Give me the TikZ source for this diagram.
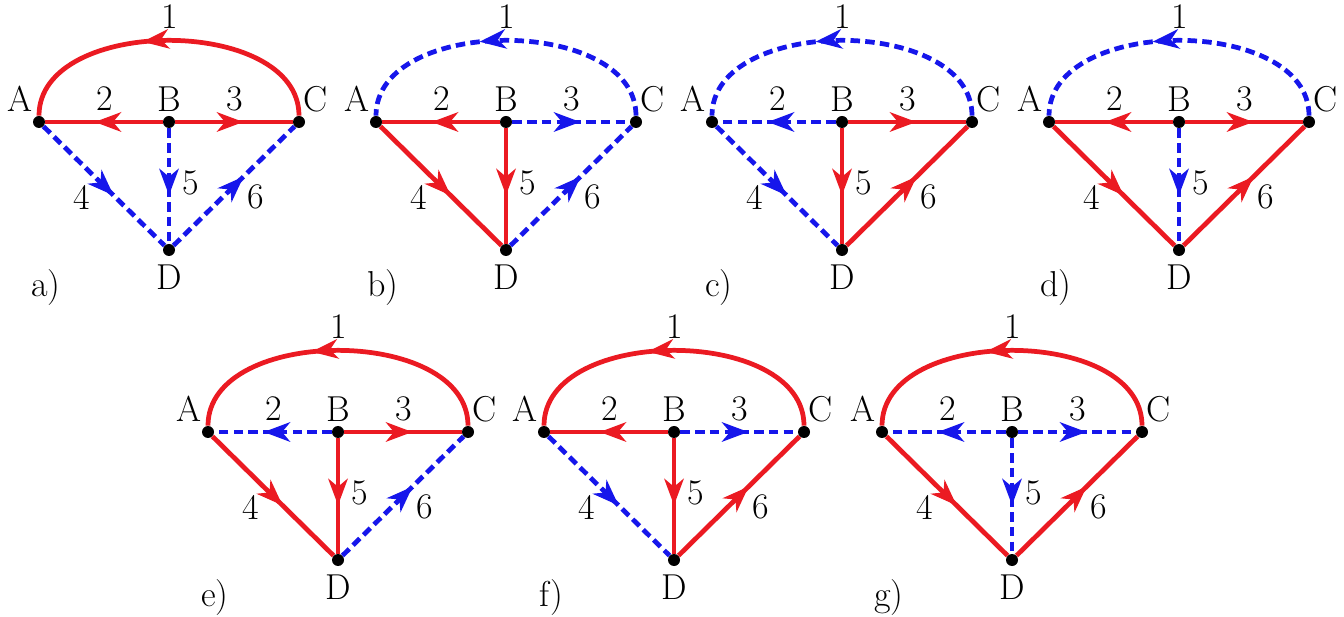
\documentclass[tikz,border=0pt]{standalone}
\usetikzlibrary{arrows.meta,decorations.markings,positioning}
\definecolor{loopred}{RGB}{235,26,34}
\definecolor{chordblue}{RGB}{22,22,235}

\begin{document}
\begin{tikzpicture}[x=0.02cm,y=-0.02cm,
  vx/.style={circle,fill=black,inner sep=0pt,minimum size=0.24cm},
  midarrow/.style={postaction={decorate,decoration={markings,mark=at position 0.58 with {\arrow{Stealth[length=15pt,width=11pt,inset=4.5pt]}}}}},
  inloop/.style={color=loopred,line width=2.7pt,midarrow},
  outloop/.style={color=chordblue,line width=2.7pt,dash pattern=on 5.4pt off 3pt,midarrow},
  lbl/.style={inner sep=0pt,font=\fontsize{20.5}{24}\selectfont}]
\fill[white] (0,0) rectangle (1344,617);
\useasboundingbox (0,0) rectangle (1344,617);
% one panel per loop, edges 1..6 get inloop (red) or outloop (blue)
\foreach \px/\py/\tg/\sa/\sb/\sc/\sd/\se/\sf in {
  39/122/a/inloop/inloop/inloop/outloop/outloop/outloop,
  376/122/b/outloop/inloop/outloop/inloop/inloop/outloop,
  712/122/c/outloop/outloop/inloop/outloop/inloop/inloop,
  1049/122/d/outloop/inloop/inloop/inloop/outloop/inloop,
  208/432/e/inloop/outloop/inloop/inloop/inloop/outloop,
  544/432/f/inloop/inloop/outloop/outloop/inloop/inloop,
  882/432/g/inloop/outloop/outloop/inloop/outloop/inloop}{
\begin{scope}[shift={(\px,\py)}]
\node[vx] (A\tg) at (0,0) {};
\node[vx] (B\tg) at (130,0) {};
\node[vx] (C\tg) at (260,0) {};
\node[vx] (D\tg) at (130,128) {};
\draw[\sa] (C\tg) to[out=90,in=90,looseness=0.99] (A\tg);
\draw[\sb] (B\tg) -- (A\tg);
\draw[\sc] (B\tg) -- (C\tg);
\draw[\sd] (A\tg) -- (D\tg);
\draw[\se] (B\tg) -- (D\tg);
\draw[\sf] (D\tg) -- (C\tg);
\node[lbl] (lA\tg) at (-19,-23) {A};
\node[lbl] (lB\tg) at (130,-23) {B};
\node[lbl] (lC\tg) at (277,-23) {C};
\node[lbl] (lD\tg) at (130,155) {D};
\node[lbl] (e1\tg) at (131,-105) {1};
\node[lbl] (e2\tg) at (66,-23) {2};
\node[lbl] (e3\tg) at (196,-23) {3};
\node[lbl] (e4\tg) at (43,75) {4};
\node[lbl] (e5\tg) at (152,61) {5};
\node[lbl] (e6\tg) at (217,75) {6};
\node[lbl] (tag\tg) at (7,166) {\tg)};
\end{scope}}
\end{tikzpicture}
\end{document}
